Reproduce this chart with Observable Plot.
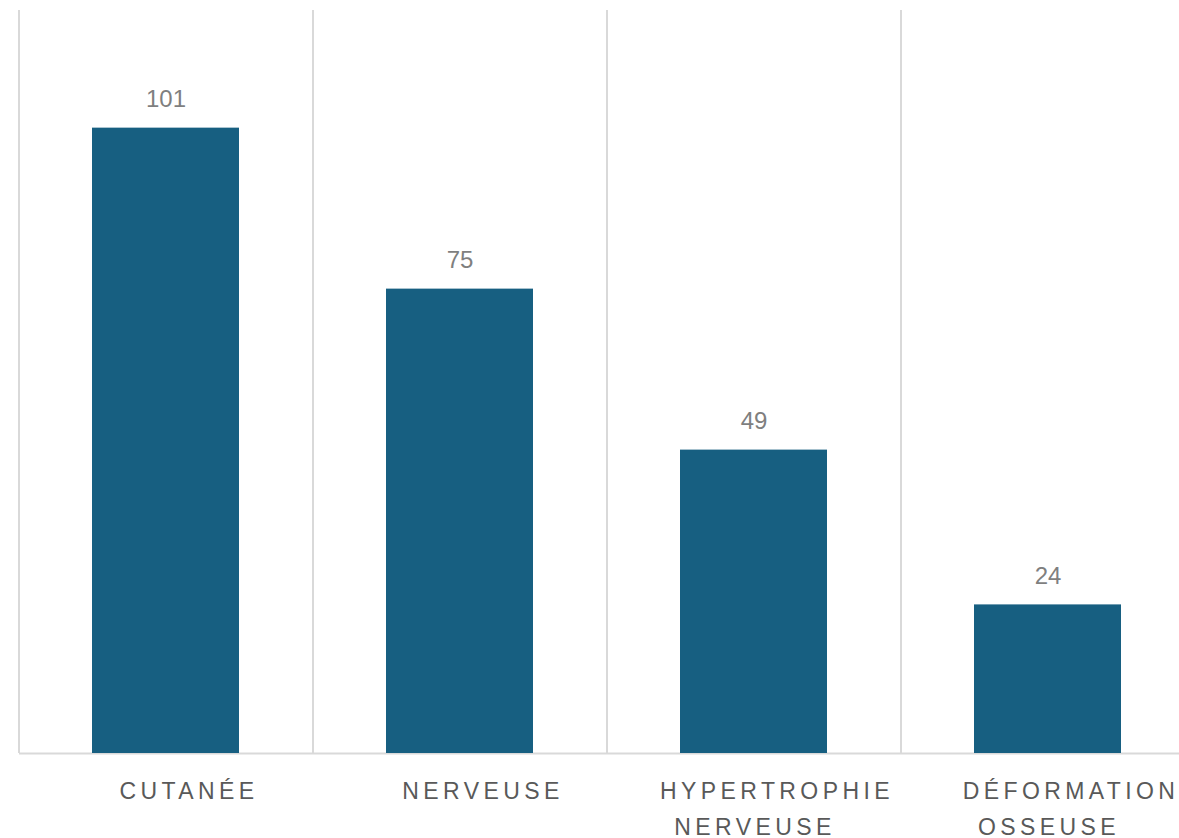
<!DOCTYPE html>
<html>
<head>
<meta charset="utf-8">
<script src="https://cdn.jsdelivr.net/npm/d3@7"></script>
<script src="https://cdn.jsdelivr.net/npm/@observablehq/plot@0.6"></script>
<style>
  html, body { margin: 0; padding: 0; background: #fff; }
  #chart svg { display: block; overflow: hidden; }
  .cat text { letter-spacing: 4.4px; }
</style>
</head>
<body>
<div id="chart"></div>
<script>
const categories = ["CUTANÉE", "NERVEUSE", "HYPERTROPHIE NERVEUSE", "DÉFORMATION OSSEUSE"];
const labelLine1 = ["CUTANÉE", "NERVEUSE", "HYPERTROPHIE", "DÉFORMATION"];
const labelLine2 = ["", "", "NERVEUSE", "OSSEUSE"];
const values = [101, 75, 49, 24];

const data = categories.map((c, i) => ({category: c, value: values[i], l1: labelLine1[i], l2: labelLine2[i]}));

const chart = Plot.plot({
  width: 1179,
  height: 838,
  marginTop: 10,
  marginBottom: 85,
  marginLeft: 19,
  marginRight: 0,
  style: {fontFamily: "'Liberation Sans', Arial, sans-serif", background: "#fff"},
  x: {domain: categories, range: [18.5, 1194.5], paddingInner: 0.5, paddingOuter: 0.25, axis: null},
  y: {domain: [0, 120], axis: null},
  marks: [
    Plot.ruleX(categories, {x: d => d, y1: 0, y2: 120, dx: -147, stroke: "#d9d9d9", strokeWidth: 2}),
    Plot.ruleY([0], {stroke: "#d9d9d9", strokeWidth: 2}),
    Plot.barY(data, {x: "category", y: "value", fill: "#175f81"}),
    Plot.text(data, {x: "category", y: "value", text: d => String(d.value), dy: -29, fill: "#7f7f7f", fontSize: 24}),
    Plot.text(data, {x: "category", y: 0, text: "l1", className: "cat", lineAnchor: "top", dy: 29, dx: 23, fill: "#595959", fontSize: 23}),
    Plot.text(data, {x: "category", y: 0, text: "l2", className: "cat", lineAnchor: "top", dy: 65, dx: 1, fill: "#595959", fontSize: 23})
  ]
});
document.getElementById("chart").appendChild(chart);
</script>
</body>
</html>
